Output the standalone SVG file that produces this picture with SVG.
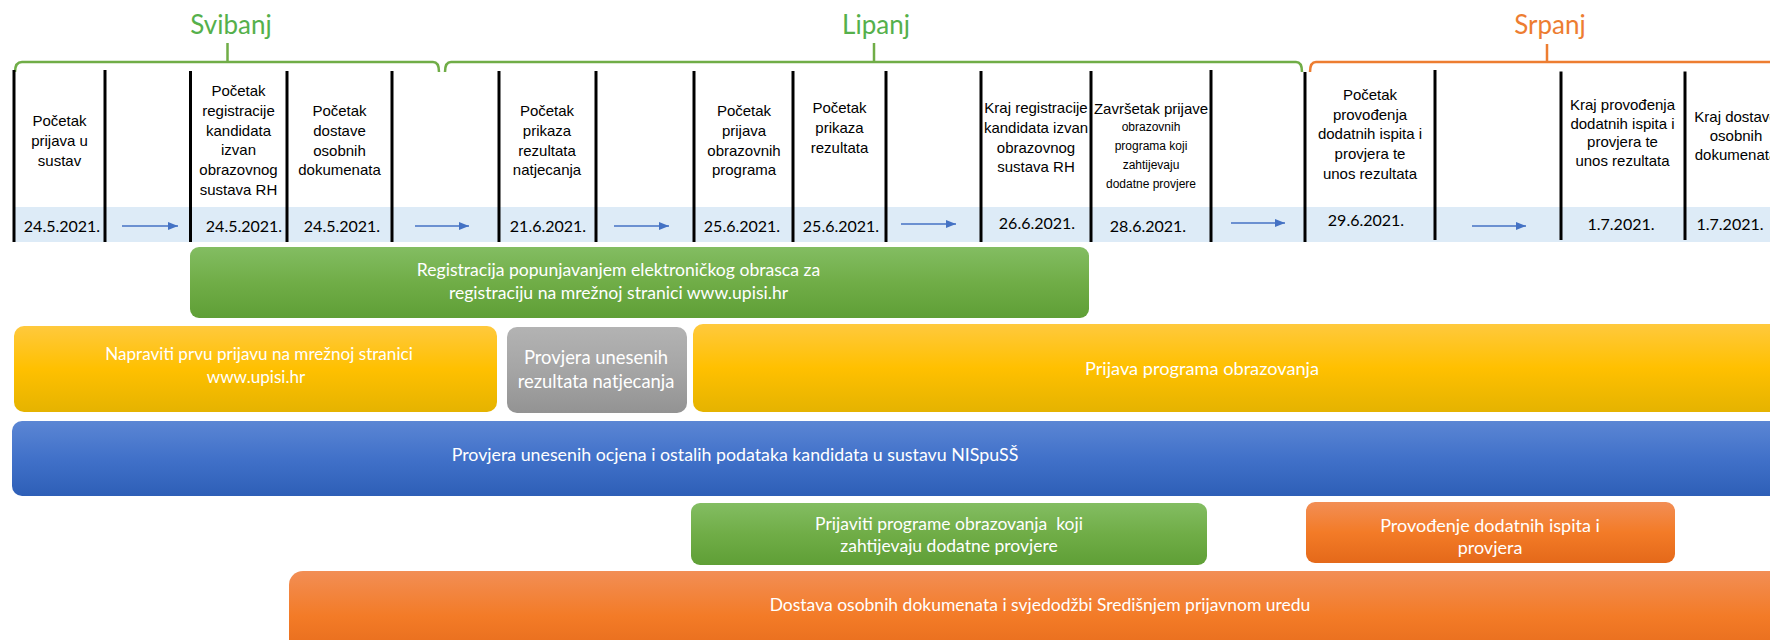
<svg xmlns="http://www.w3.org/2000/svg" width="1770" height="640" viewBox="0 0 1770 640">
<style>
.hd{font-family:"Liberation Sans",Arial,sans-serif;font-size:15px;fill:#000;text-anchor:middle}
.hs{font-size:12px}
.dt{font-family:Lato,"Liberation Sans",sans-serif;font-size:16px;fill:#000;text-anchor:middle}
.mo{font-family:Lato,"Liberation Sans",sans-serif;font-size:26px;text-anchor:middle}
.bt{font-family:Lato,"Liberation Sans",sans-serif;font-size:17.5px;fill:#fff;text-anchor:middle}
.vl{stroke:#000;stroke-width:3}
.br{fill:none;stroke-width:2.5}
.ar{stroke:#4472C4;stroke-width:1.5;fill:none;marker-end:url(#ah)}
</style>
<defs>
<marker id="ah" viewBox="0 0 10 8" refX="10" refY="4" markerWidth="10" markerHeight="8" markerUnits="userSpaceOnUse" orient="auto"><path d="M0,0L10,4L0,8z" fill="#4472C4"/></marker>
<linearGradient id="gG" x1="0" y1="0" x2="0" y2="1"><stop offset="0" stop-color="#83BD62"/><stop offset="0.5" stop-color="#70AD47"/><stop offset="1" stop-color="#5F9F36"/></linearGradient>
<linearGradient id="gY" x1="0" y1="0" x2="0" y2="1"><stop offset="0" stop-color="#FFC93D"/><stop offset="0.5" stop-color="#FFC000"/><stop offset="1" stop-color="#E5B300"/></linearGradient>
<linearGradient id="gS" x1="0" y1="0" x2="0" y2="1"><stop offset="0" stop-color="#B3B3B3"/><stop offset="0.5" stop-color="#A5A5A5"/><stop offset="1" stop-color="#939393"/></linearGradient>
<linearGradient id="gB" x1="0" y1="0" x2="0" y2="1"><stop offset="0" stop-color="#5B86D4"/><stop offset="0.5" stop-color="#4171C9"/><stop offset="1" stop-color="#2E5FB7"/></linearGradient>
<linearGradient id="gO" x1="0" y1="0" x2="0" y2="1"><stop offset="0" stop-color="#F28E55"/><stop offset="0.5" stop-color="#F37B27"/><stop offset="1" stop-color="#E4691A"/></linearGradient>
</defs>
<rect width="1770" height="640" fill="#fff"/>

<g id="months">
<text class="mo" x="231" y="34" fill="#55B04B">Svibanj</text>
<text class="mo" x="876" y="34" fill="#55B04B">Lipanj</text>
<text class="mo" x="1550" y="34" fill="#ED7D31">Srpanj</text>
<path class="br" stroke="#70AD47" d="M15,72Q15,62 22,62H433Q439,62 439,72M227.5,62V43"/>
<path class="br" stroke="#70AD47" d="M445,72Q445,62 451,62H1296Q1302,62 1302,72M874,62V43"/>
<path class="br" stroke="#ED7D31" d="M1310,72Q1310,62 1316,62H1770M1547,62V44"/>
</g>

<g id="table">
<rect x="14" y="207" width="1756" height="35" fill="#DDEBF7"/>
<g>
<line class="vl" x1="14" y1="70" x2="14" y2="242"/>
<line class="vl" x1="105" y1="70" x2="105" y2="242"/>
<line class="vl" x1="190.5" y1="71" x2="190.5" y2="242"/>
<line class="vl" x1="287" y1="71" x2="287" y2="242"/>
<line class="vl" x1="392" y1="71" x2="392" y2="242"/>
<line class="vl" x1="499" y1="71" x2="499" y2="242"/>
<line class="vl" x1="596" y1="71" x2="596" y2="242"/>
<line class="vl" x1="694" y1="71" x2="694" y2="242"/>
<line class="vl" x1="793" y1="71" x2="793" y2="242"/>
<line class="vl" x1="886" y1="71" x2="886" y2="242"/>
<line class="vl" x1="981" y1="71" x2="981" y2="242"/>
<line class="vl" x1="1091" y1="71" x2="1091" y2="242"/>
<line class="vl" x1="1211" y1="70" x2="1211" y2="242"/>
<line class="vl" x1="1305" y1="72" x2="1305" y2="242"/>
<line class="vl" x1="1435" y1="70" x2="1435" y2="240"/>
<line class="vl" x1="1561" y1="71.5" x2="1561" y2="240"/>
<line class="vl" x1="1685" y1="71.5" x2="1685" y2="240"/>
</g>
</g>

<g id="col-a"><text class="hd" x="59.5" y="126"><tspan x="59.5">Početak</tspan><tspan x="59.5" dy="20">prijava u</tspan><tspan x="59.5" dy="20">sustav</tspan></text><text class="dt" x="62" y="232">24.5.2021.</text></g>
<g id="col-c"><text class="hd" x="238.5" y="96"><tspan x="238.5">Početak</tspan><tspan x="238.5" dy="19.8">registracije</tspan><tspan x="238.5" dy="19.8">kandidata</tspan><tspan x="238.5" dy="19.8">izvan</tspan><tspan x="238.5" dy="19.8">obrazovnog</tspan><tspan x="238.5" dy="19.8">sustava RH</tspan></text><text class="dt" x="244" y="232">24.5.2021.</text></g>
<g id="col-d"><text class="hd" x="339.5" y="116"><tspan x="339.5">Početak</tspan><tspan x="339.5" dy="19.8">dostave</tspan><tspan x="339.5" dy="19.8">osobnih</tspan><tspan x="339.5" dy="19.8">dokumenata</tspan></text><text class="dt" x="342" y="232">24.5.2021.</text></g>
<g id="col-f"><text class="hd" x="547" y="116"><tspan x="547">Početak</tspan><tspan x="547" dy="19.8">prikaza</tspan><tspan x="547" dy="19.8">rezultata</tspan><tspan x="547" dy="19.8">natjecanja</tspan></text><text class="dt" x="548" y="232">21.6.2021.</text></g>
<g id="col-h"><text class="hd" x="744" y="116"><tspan x="744">Početak</tspan><tspan x="744" dy="19.8">prijava</tspan><tspan x="744" dy="19.8">obrazovnih</tspan><tspan x="744" dy="19.8">programa</tspan></text><text class="dt" x="742" y="232">25.6.2021.</text></g>
<g id="col-i"><text class="hd" x="839.5" y="113"><tspan x="839.5">Početak</tspan><tspan x="839.5" dy="19.8">prikaza</tspan><tspan x="839.5" dy="19.8">rezultata</tspan></text><text class="dt" x="841" y="232">25.6.2021.</text></g>
<g id="col-k"><text class="hd" x="1036" y="113"><tspan x="1036">Kraj registracije</tspan><tspan x="1036" dy="19.8">kandidata izvan</tspan><tspan x="1036" dy="19.8">obrazovnog</tspan><tspan x="1036" dy="19.8">sustava RH</tspan></text><text class="dt" x="1037" y="229">26.6.2021.</text></g>
<g id="col-l"><text class="hd" x="1151" y="114"><tspan x="1151">Završetak prijave</tspan><tspan class="hs" x="1151" dy="17">obrazovnih</tspan><tspan class="hs" x="1151" dy="19">programa koji</tspan><tspan class="hs" x="1151" dy="19">zahtijevaju</tspan><tspan class="hs" x="1151" dy="19">dodatne provjere</tspan></text><text class="dt" x="1148" y="232">28.6.2021.</text></g>
<g id="col-n"><text class="hd" x="1370" y="100"><tspan x="1370">Početak</tspan><tspan x="1370" dy="19.7">provođenja</tspan><tspan x="1370" dy="19.7">dodatnih ispita i</tspan><tspan x="1370" dy="19.7">provjera te</tspan><tspan x="1370" dy="19.7">unos rezultata</tspan></text><text class="dt" x="1366" y="226">29.6.2021.</text></g>
<g id="col-p"><text class="hd" x="1622.5" y="110"><tspan x="1622.5">Kraj provođenja</tspan><tspan x="1622.5" dy="18.5">dodatnih ispita i</tspan><tspan x="1622.5" dy="18.5">provjera te</tspan><tspan x="1622.5" dy="18.5">unos rezultata</tspan></text><text class="dt" x="1621" y="230">1.7.2021.</text></g>
<g id="col-q"><text class="hd" x="1736" y="122"><tspan x="1736">Kraj dostave</tspan><tspan x="1736" dy="19">osobnih</tspan><tspan x="1736" dy="19">dokumenata</tspan></text><text class="dt" x="1730" y="230">1.7.2021.</text></g>

<g id="connectors">
<line class="ar" x1="122" y1="226" x2="178" y2="226"/>
<line class="ar" x1="415" y1="226" x2="469" y2="226"/>
<line class="ar" x1="614" y1="226" x2="669" y2="226"/>
<line class="ar" x1="901" y1="224" x2="956" y2="224"/>
<line class="ar" x1="1231" y1="223" x2="1285" y2="223"/>
<line class="ar" x1="1472" y1="226" x2="1526" y2="226"/>
</g>

<g id="bar-registracija"><rect x="190" y="247" width="899" height="71" rx="9" fill="url(#gG)"/><text class="bt" x="618.5" y="276" style="font-size:17.6px"><tspan x="618.5">Registracija popunjavanjem elektroničkog obrasca za</tspan><tspan x="618.5" dy="22.5">registraciju na mrežnoj stranici www.upisi.hr</tspan></text></g>
<g id="bar-napraviti"><rect x="14" y="326" width="483" height="86" rx="10" fill="url(#gY)"/><text class="bt" x="257" y="360" style="font-size:17.1px"><tspan x="259">Napraviti prvu prijavu na mrežnoj stranici</tspan><tspan x="256" dy="23">www.upisi.hr</tspan></text></g>
<g id="bar-provjera-natjecanja"><rect x="507" y="327" width="180" height="86" rx="10" fill="url(#gS)"/><text class="bt" x="596" y="364" style="font-size:18.4px"><tspan x="596">Provjera unesenih</tspan><tspan x="596" dy="23.5">rezultata natjecanja</tspan></text></g>
<g id="bar-prijava-programa"><rect x="693" y="324" width="1100" height="88" rx="10" fill="url(#gY)"/><text class="bt" x="1202" y="375" style="font-size:18.2px">Prijava programa obrazovanja</text></g>
<g id="bar-provjera-ocjena"><rect x="12" y="421" width="1780" height="75" rx="10" fill="url(#gB)"/><text class="bt" x="735" y="461" style="font-size:17.8px">Provjera unesenih ocjena i ostalih podataka kandidata u sustavu NISpuSŠ</text></g>
<g id="bar-prijaviti-programe"><rect x="691" y="503" width="516" height="62" rx="9" fill="url(#gG)"/><text class="bt" x="949" y="530"><tspan x="949">Prijaviti programe obrazovanja&#160; koji</tspan><tspan x="949" dy="22">zahtijevaju dodatne provjere</tspan></text></g>
<g id="bar-provodenje"><rect x="1306" y="502" width="369" height="61" rx="9" fill="url(#gO)"/><text class="bt" x="1490" y="532" style="font-size:18px"><tspan x="1490">Provođenje dodatnih ispita i</tspan><tspan x="1490" dy="21.5">provjera</tspan></text></g>
<g id="bar-dostava"><rect x="289" y="571" width="1500" height="90" rx="14" fill="url(#gO)"/><text class="bt" x="1040" y="611">Dostava osobnih dokumenata i svjedodžbi Središnjem prijavnom uredu</text></g>
</svg>
